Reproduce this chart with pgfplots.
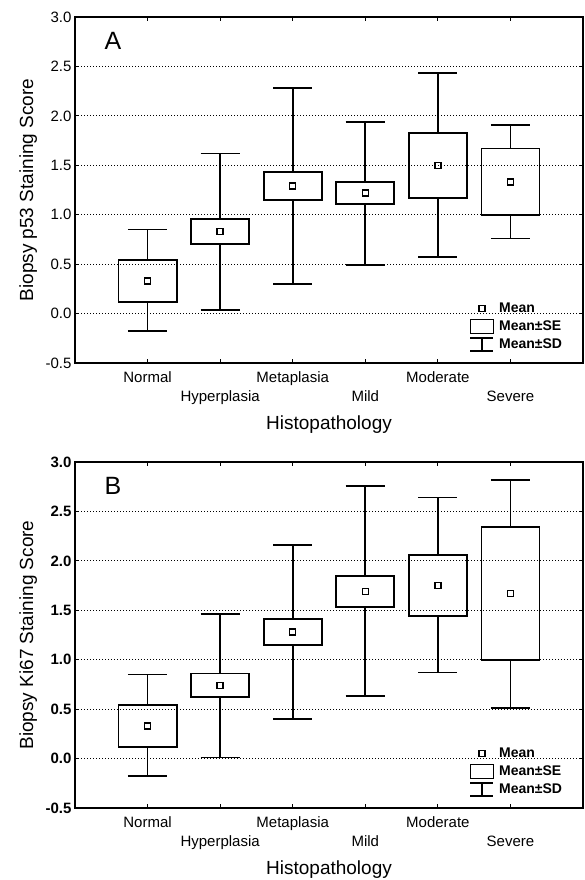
\documentclass[border=0pt]{standalone}
\usepackage{fontspec}
\setmainfont{Liberation Sans}
\usepackage{pgfplots}
\pgfplotsset{compat=1.18}
\usepgfplotslibrary{statistics}

\pgfplotsset{
  boxpanel/.style={
    scale only axis, width=508pt, height=346pt,
    xmin=-1, xmax=6, ymin=-0.5, ymax=3,
    xtick={0,...,5},
    xticklabels={{\strut Normal},{\strut\\\strut Hyperplasia},{\strut Metaplasia},{\strut\\\strut Mild},{\strut Moderate},{\strut\\\strut Severe}},
    xticklabel style={align=center, font=\fontsize{15}{19}\selectfont, yshift=-3pt},
    ytick={-0.5,0,0.5,1,1.5,2,2.5,3},
    yticklabels={-0.5,0.0,0.5,1.0,1.5,2.0,2.5,3.0},
    yticklabel style={font=\fontsize{15}{18}\selectfont},
    /pgf/number format/assume math mode=true,
    tick align=inside, major tick length=4pt,
    every tick/.style={black, line width=1pt},
    ymajorgrids,
    major grid style={black, line width=0.9pt, dash pattern=on 0.9pt off 2.1pt},
    axis line style={line width=1.4pt},
    label style={font=\fontsize{19}{22}\selectfont},
    xlabel style={at={(axis description cs:0.5,-0.1774)}, anchor=center},
    ylabel style={at={(axis description cs:-0.092,0.5)}, anchor=center},
    xlabel=Histopathology,
    boxplot/draw direction=y,
    boxplot/box extend=0.8,
    boxplot/whisker extend=0.54,
    boxplot/draw/median/.code={},
    legend style={draw=none, fill=none, at={(rel axis cs:0.965,0.026)}, anchor=south east,
      font=\bfseries\fontsize{14}{15}\selectfont,
      nodes={inner sep=0pt, text height=11pt, text depth=3pt},
      row sep=3pt, column sep=5pt},
    legend cell align=left,
  },
  bx/.style={black, line width=1.8pt, forget plot},
  mn/.style={only marks, mark=square, mark size=3pt, mark options={line width=1.4pt, fill=white, solid}, black, forget plot},
}

\newcommand{\legendstuff}{%
  \addlegendimage{legend image code/.code={\draw[line width=1.3pt] (8.5pt,-3pt) rectangle (14.5pt,3pt);}}
  \addlegendentry{Mean}
  \addlegendimage{legend image code/.code={\draw[line width=1.4pt] (0pt,-7pt) rectangle (23pt,7pt);}}
  \addlegendentry{Mean\textpm SE}
  \addlegendimage{legend image code/.code={\draw[line width=1.4pt] (0pt,6pt) -- (23pt,6pt) (11.5pt,6pt) -- (11.5pt,-7pt) (0pt,-7pt) -- (23pt,-7pt);}}
  \addlegendentry{Mean\textpm SD}
}

\begin{document}
\begin{tikzpicture}
\path[use as bounding box] (0,0) rectangle (584pt,880pt);

% ---------------- Panel A ----------------
\begin{axis}[boxpanel, at={(75pt,517pt)}, anchor=south west,
  ylabel={Biopsy p53 Staining Score}]
\legendstuff
\addplot[bx, boxplot prepared={draw position=0, lower whisker=-0.18, lower quartile=0.12, median=0.33, upper quartile=0.54, upper whisker=0.85}] coordinates {};
\addplot[bx, boxplot prepared={draw position=1, lower whisker=0.04, lower quartile=0.70, median=0.83, upper quartile=0.96, upper whisker=1.62}] coordinates {};
\addplot[bx, boxplot prepared={draw position=2, lower whisker=0.30, lower quartile=1.15, median=1.29, upper quartile=1.43, upper whisker=2.28}] coordinates {};
\addplot[bx, boxplot prepared={draw position=3, lower whisker=0.49, lower quartile=1.11, median=1.22, upper quartile=1.33, upper whisker=1.94}] coordinates {};
\addplot[bx, boxplot prepared={draw position=4, lower whisker=0.57, lower quartile=1.17, median=1.50, upper quartile=1.83, upper whisker=2.43}] coordinates {};
\addplot[bx, boxplot prepared={draw position=5, lower whisker=0.76, lower quartile=1.00, median=1.33, upper quartile=1.67, upper whisker=1.91}] coordinates {};
\addplot[mn] coordinates {(0,0.33) (1,0.83) (2,1.29) (3,1.22) (4,1.50) (5,1.33)};
\node[font=\fontsize{25}{28}\selectfont] at (rel axis cs:0.0747,0.93) {A};
\end{axis}

% ---------------- Panel B ----------------
\begin{axis}[boxpanel, at={(75pt,72pt)}, anchor=south west,
  yticklabel style={font=\bfseries\fontsize{15}{18}\selectfont},
  ylabel={Biopsy Ki67 Staining Score}]
\legendstuff
\addplot[bx, boxplot prepared={draw position=0, lower whisker=-0.18, lower quartile=0.12, median=0.33, upper quartile=0.54, upper whisker=0.85}] coordinates {};
\addplot[bx, boxplot prepared={draw position=1, lower whisker=0.01, lower quartile=0.62, median=0.74, upper quartile=0.86, upper whisker=1.46}] coordinates {};
\addplot[bx, boxplot prepared={draw position=2, lower whisker=0.40, lower quartile=1.15, median=1.28, upper quartile=1.41, upper whisker=2.16}] coordinates {};
\addplot[bx, boxplot prepared={draw position=3, lower whisker=0.63, lower quartile=1.53, median=1.69, upper quartile=1.85, upper whisker=2.76}] coordinates {};
\addplot[bx, boxplot prepared={draw position=4, lower whisker=0.87, lower quartile=1.44, median=1.75, upper quartile=2.06, upper whisker=2.64}] coordinates {};
\addplot[bx, boxplot prepared={draw position=5, lower whisker=0.51, lower quartile=1.00, median=1.67, upper quartile=2.34, upper whisker=2.82}] coordinates {};
\addplot[mn] coordinates {(0,0.33) (1,0.74) (2,1.28) (3,1.69) (4,1.75) (5,1.67)};
\node[font=\fontsize{25}{28}\selectfont] at (rel axis cs:0.0747,0.93) {B};
\end{axis}
\end{tikzpicture}
\end{document}
